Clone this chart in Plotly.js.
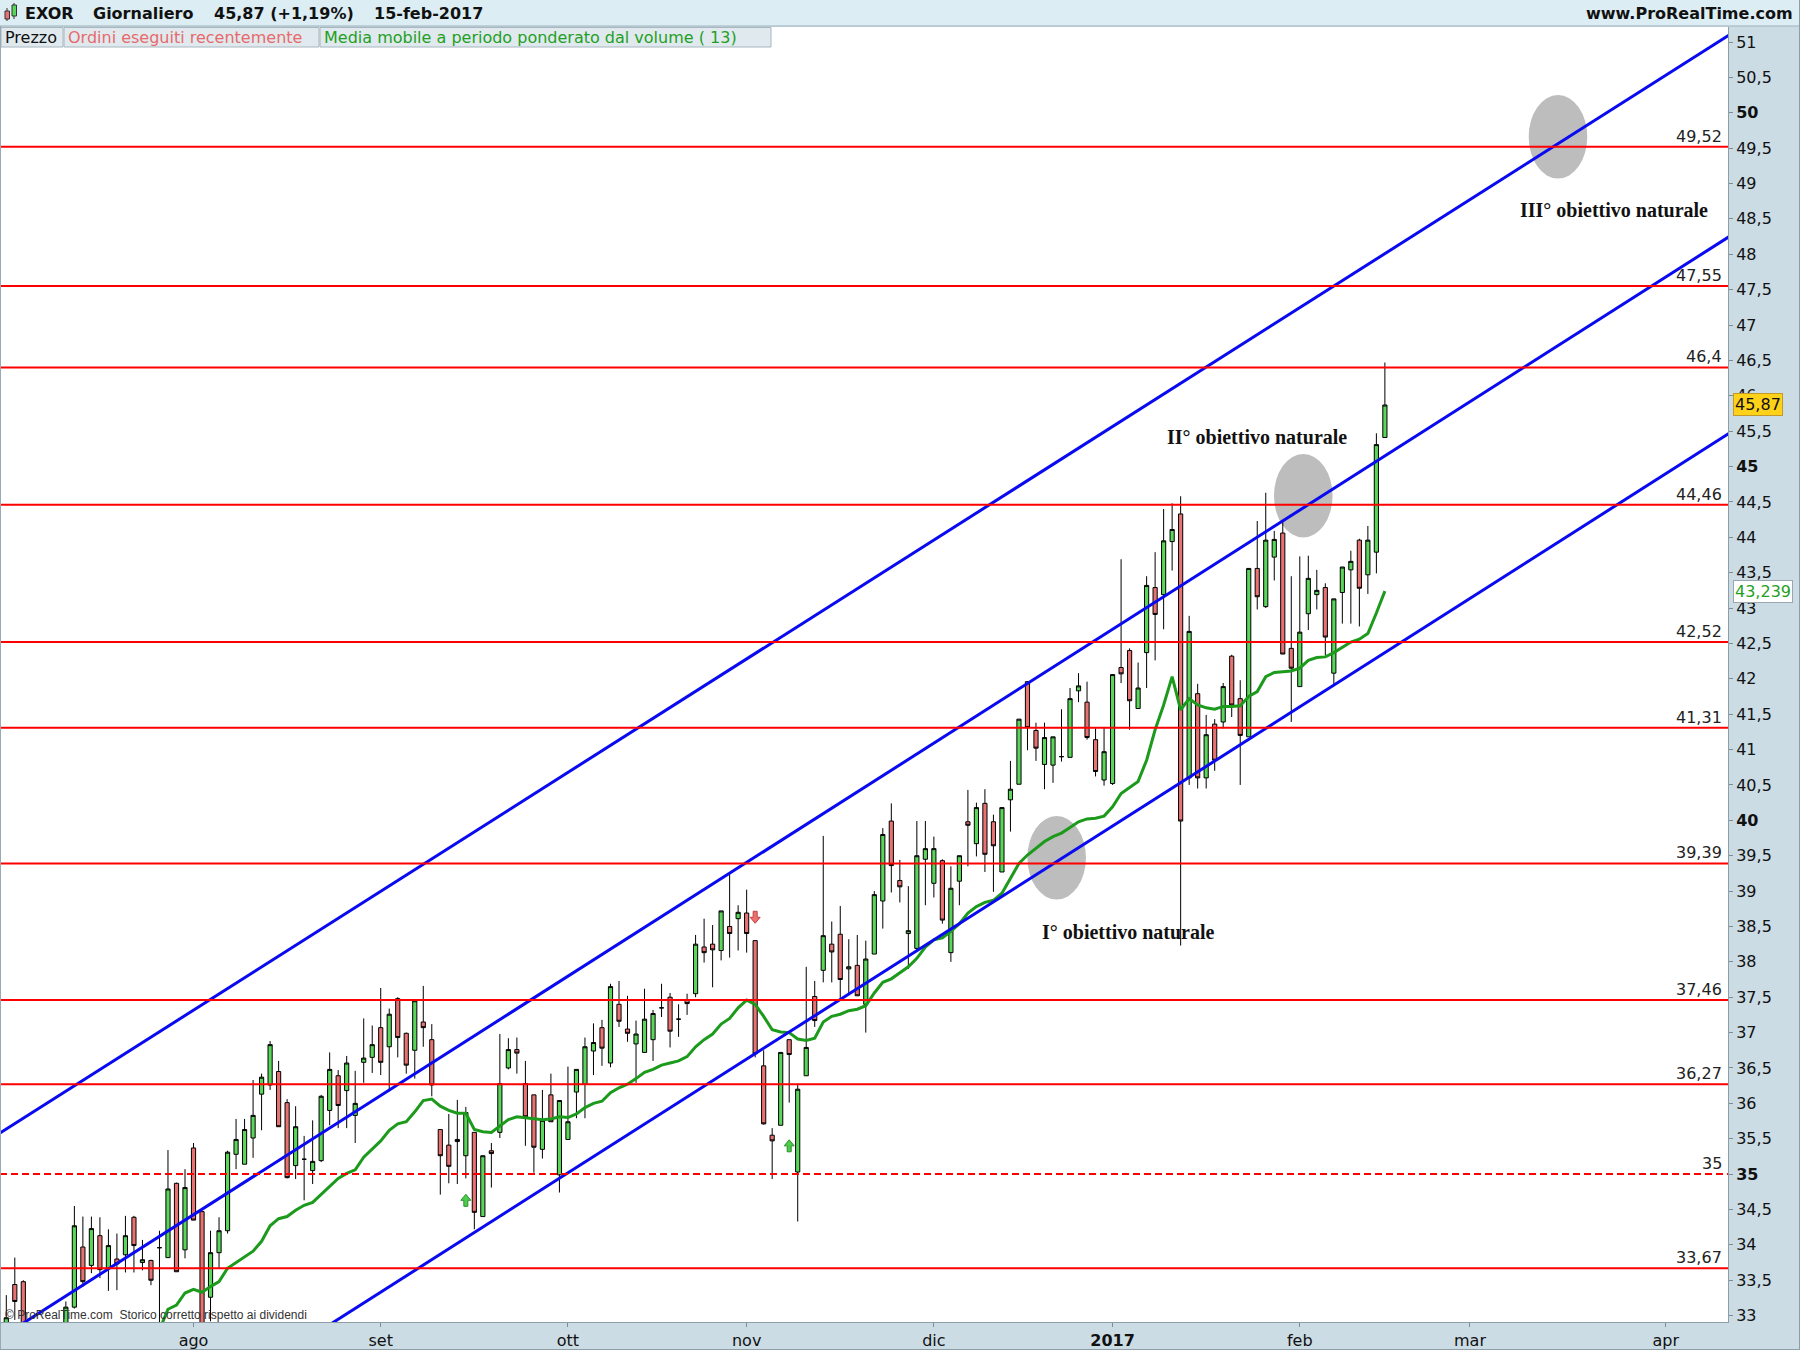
<!DOCTYPE html>
<html><head><meta charset="utf-8">
<script src="https://cdn.plot.ly/plotly-3.0.1.min.js"></script>
<style>html,body{margin:0;padding:0;background:#fff}#chart{width:1800px;height:1350px}</style>
</head><body><div id="chart"></div>
<script>
// ---------- DATA ----------
// trading-day index (0 = 1 Aug 2016) of the first candle
const firstDay = -22;
const open  = [32.80,33.44,33.48,32.60,32.40,32.50,32.60,32.75,33.12,33.97,33.71,34.13,33.67,33.80,33.86,34.39,33.75,33.78,33.96,33.82,34.87,33.93,
 35.37,34.47,33.26,33.89,34.20,35.28,35.14,35.51,36.13,36.26,36.45,36.01,35.12,35.21,35.05,35.19,35.90,36.39,36.18,35.83,36.58,36.65,
 37.07,36.80,37.48,36.99,36.75,37.15,36.90,35.63,35.41,35.46,35.26,35.59,34.40,35.33,35.59,36.50,36.76,36.28,36.12,35.35,36.12,34.99,
 35.49,36.16,36.27,36.74,37.07,36.57,37.40,37.05,36.84,36.72,36.90,37.35,37.50,37.19,37.46,37.55,38.21,38.25,38.16,38.50,38.61,
 38.69,38.30,36.53,35.55,35.69,36.90,35.03,36.39,37.51,37.88,38.25,38.39,37.90,37.95,37.40,38.11,38.86,39.99,39.15,38.40,38.19,39.45,
 39.11,39.43,38.13,39.14,39.98,39.67,40.24,39.98,39.27,40.29,40.51,41.96,41.27,40.79,40.78,40.90,40.89,41.83,41.67,41.14,40.57,
 40.52,42.16,42.40,41.58,42.37,43.29,43.19,43.94,44.33,40.60,41.79,40.60,41.36,41.39,42.32,41.72,41.18,43.56,43.02,43.72,44.06,42.43,
 41.89,42.92,43.19,43.29,42.08,43.22,43.54,43.96,43.47,43.79,45.41];
const high  = [33.29,33.82,33.50,32.80,32.70,32.80,32.85,33.20,34.55,34.40,34.40,34.39,34.22,34.16,34.41,34.41,34.07,33.79,34.20,35.34,34.88,35.07,
 35.44,34.47,34.20,34.39,35.33,35.78,35.78,36.33,36.42,36.88,36.60,36.06,35.96,35.54,35.76,36.12,36.72,36.47,36.67,36.46,37.20,37.10,
 37.63,37.34,37.50,37.00,37.46,37.66,37.12,35.63,35.85,36.05,35.95,35.59,35.26,35.44,36.98,36.92,36.93,36.60,36.12,36.19,36.42,36.04,
 36.52,36.48,36.93,37.13,37.18,37.69,37.73,37.52,37.17,37.62,37.32,37.69,37.56,37.40,37.55,38.38,38.61,38.52,38.72,39.24,38.80,
 39.02,38.30,36.75,35.65,36.72,36.90,36.28,37.93,37.73,39.78,38.57,38.79,38.32,38.38,38.30,39.00,39.89,40.24,39.44,39.07,39.99,39.99,
 39.77,39.45,39.35,39.50,40.43,40.25,40.44,40.08,40.18,40.84,41.43,41.96,41.38,41.38,41.18,41.57,41.87,42.08,41.96,41.30,41.32,
 42.06,43.69,42.43,42.23,43.45,43.79,44.40,44.48,44.58,42.89,41.93,41.49,41.43,41.94,42.34,41.98,43.56,44.23,44.63,44.09,44.24,43.45,
 43.73,43.74,43.54,43.35,43.13,43.58,43.81,43.98,44.16,45.47,46.47];
const low   = [32.60,32.94,32.50,32.20,32.10,32.30,32.30,32.60,33.10,33.41,33.60,33.53,33.35,33.36,33.61,33.61,33.64,33.43,32.80,33.82,33.62,33.81,
 34.35,32.70,32.92,33.67,34.16,35.07,35.14,35.23,35.62,36.19,35.67,34.94,34.93,34.63,34.86,35.17,35.69,35.65,35.65,35.44,36.29,36.43,
 36.40,36.17,36.65,36.42,36.35,36.80,36.10,34.71,34.87,34.86,34.94,34.22,34.40,34.81,35.51,36.48,36.42,35.40,35.02,35.22,35.74,34.74,
 35.49,35.79,35.79,36.40,36.53,36.51,37.08,36.87,36.29,36.72,36.60,37.22,36.79,36.94,37.25,37.50,37.99,37.64,38.02,38.06,38.16,
 38.13,36.65,35.70,34.93,35.69,36.01,34.33,36.39,37.08,37.71,37.71,37.49,37.53,37.52,37.00,38.11,38.47,38.98,38.84,37.90,38.17,38.80,
 38.91,38.54,38.00,38.80,39.35,39.49,39.27,38.99,39.27,39.84,40.51,40.99,40.84,40.44,40.53,40.83,40.89,41.67,41.14,40.62,40.49,
 40.50,41.94,41.28,41.58,41.87,42.26,42.70,43.53,38.23,40.50,40.45,40.45,40.70,41.30,41.46,40.50,41.18,42.98,43.00,43.39,42.35,41.39,
 41.89,42.69,42.98,42.33,41.92,42.78,42.78,42.74,43.20,43.49,45.41];
const close = [32.97,33.20,32.70,32.40,32.50,32.60,32.50,33.12,34.27,33.48,34.23,33.65,33.99,33.73,34.13,33.99,33.79,33.50,33.96,34.79,33.62,34.81,
 34.35,32.85,33.89,34.20,35.31,35.49,35.63,35.83,36.37,36.83,35.67,34.95,35.67,35.21,35.18,36.10,36.48,35.97,36.57,36.00,36.64,36.83,
 36.58,37.26,36.93,36.54,37.45,37.07,36.26,35.26,35.11,35.49,35.87,34.46,35.26,35.29,36.28,36.76,36.71,35.81,35.38,35.76,35.74,36.04,
 35.74,36.48,36.80,36.86,36.78,37.65,37.16,36.99,36.98,37.19,37.27,37.35,37.02,37.19,37.41,38.25,38.13,38.17,38.72,38.40,38.70,
 38.40,36.70,35.71,35.47,36.72,36.69,36.20,36.79,37.17,38.37,38.14,37.75,37.93,37.52,38.04,38.95,39.80,39.36,39.06,38.44,39.50,39.60,
 39.60,38.59,39.04,39.50,39.93,40.18,39.52,39.64,40.18,40.44,41.43,41.31,41.02,41.17,41.18,40.90,41.72,41.90,41.17,40.69,40.97,
 42.06,42.07,41.69,41.87,43.32,42.91,43.95,44.11,39.99,42.67,40.60,41.21,40.85,41.89,41.63,41.20,43.56,43.16,43.96,43.97,42.35,42.15,
 42.66,43.42,43.25,42.59,43.13,43.58,43.66,43.28,43.96,45.31,45.87];

// volume-weighted moving average (13), first value at day index vwmaStart
const vwmaStart = -4;
const vwma = [32.80,33.09,33.15,33.32,33.37,33.33,33.41,33.48,33.67,33.75,33.83,33.91,34.05,34.27,34.37,34.40,34.49,34.56,34.60,34.71,
 34.82,34.94,35.01,35.06,35.24,35.36,35.47,35.62,35.71,35.74,35.88,36.04,36.06,35.96,35.90,35.86,35.86,35.63,35.60,35.59,35.68,35.77,
 35.81,35.80,35.78,35.77,35.78,35.81,35.80,35.85,35.94,36.00,36.03,36.15,36.22,36.27,36.35,36.44,36.48,36.54,36.57,36.60,36.66,36.80,
 36.90,36.98,37.12,37.20,37.35,37.46,37.40,37.23,37.04,37.01,37.00,36.91,36.89,36.92,37.15,37.23,37.26,37.31,37.33,37.38,37.56,37.71,
 37.76,37.84,37.93,38.05,38.21,38.31,38.34,38.43,38.54,38.69,38.78,38.84,38.87,38.97,39.18,39.39,39.51,39.60,39.70,39.77,39.82,39.90,
 39.98,40.02,40.03,40.06,40.19,40.38,40.46,40.55,40.85,41.28,41.63,42.03,41.56,41.72,41.63,41.59,41.57,41.61,41.61,41.62,41.75,41.82,
 42.03,42.09,42.10,42.11,42.15,42.26,42.30,42.31,42.37,42.45,42.52,42.56,42.64,42.93,43.239];

// recent orders (arrows)
const buyDays = [32, 70];   const buyPrices = [34.63, 35.40];
const sellDays = [66];      const sellPrices = [38.63];

// horizontal levels
const levels = [49.52, 47.55, 46.4, 44.46, 42.52, 41.31, 39.39, 37.46, 36.27, 35, 33.67];
const levelLabels = ['49,52','47,55','46,4','44,46','42,52','41,31','39,39','37,46','36,27','35','33,67'];

// trend channel (day index, price at both ends)
const chanDays = [-23, 181];
const chanUpper = [35.561, 51.140];
const chanMiddle = [32.665, 48.291];
const chanLower = [29.885, 45.511];

// targets
const targetNames = ['I° obiettivo naturale','II° obiettivo naturale','III° obiettivo naturale'];
const targetDay = [101.43, 130.41, 160.34];
const targetPrice = [39.47, 44.588, 49.66];
const targetLabelDay = [109.87, 124.97, 166.92];
const targetLabelPrice = [38.42, 45.42, 48.63];

// axis ticks
const monthTickDays = [0, 22, 44, 65, 87, 108, 130, 150, 173];
const monthLabels = ['ago','set','ott','nov','dic','<b>2017</b>','feb','mar','apr'];
const priceTicks = []; for (let v = 33; v <= 51.001; v += 0.5) priceTicks.push(Math.round(v*10)/10);

const lastPrice = 45.87, lastPriceLabel = '45,87';
const lastVwma = 43.239, lastVwmaLabel = '43,239';

// ---------- BUILD ----------
const FONT = 'DejaVu Sans, sans-serif';
const days = open.map((_, k) => firstDay + k);
const vwmaDays = vwma.map((_, k) => vwmaStart + k);
const priceTickText = priceTicks.map(v => {
  let s = String(v).replace('.', ',');
  return (v % 5 === 0) ? '<b>' + s + '</b>' : s;
});

const W = 1800, H = 1350, ML = 0, MR = 72, MT = 27, MB = 28;
const PW = W - ML - MR, PH = H - MT - MB;
const px = x => (x - ML) / PW;
const py = y => (H - MB - y) / PH;

const traces = [];
traces.push({
  type: 'candlestick', x: days, open, high, low, close,
  increasing: {line: {color: '#000', width: 1}, fillcolor: '#5ad65a'},
  decreasing: {line: {color: '#000', width: 1}, fillcolor: '#e87272'},
  whiskerwidth: 0, hoverinfo: 'skip', showlegend: false
});
traces.push({type: 'scatter', mode: 'lines', x: vwmaDays, y: vwma,
  line: {color: '#1c9a1c', width: 3}, hoverinfo: 'skip', showlegend: false});
[chanUpper, chanMiddle, chanLower].forEach(c => traces.push({
  type: 'scatter', mode: 'lines', x: chanDays, y: c,
  line: {color: '#0a0af0', width: 3}, hoverinfo: 'skip', showlegend: false}));

const shapes = [];
const annotations = [];

// order arrows (block arrows, pixel-sized, anchored on the data point)
const upPath = 'M -2 -6 L 2 -6 L 2 0 L 5 0 L 0 6 L -5 0 L -2 0 Z';
const downPath = 'M -2 6 L 2 6 L 2 0 L 5 0 L 0 -6 L -5 0 L -2 0 Z';
buyDays.forEach((d, k) => shapes.push({type: 'path', xref: 'x', yref: 'y', xsizemode: 'pixel', ysizemode: 'pixel',
  xanchor: d, yanchor: buyPrices[k], path: upPath, fillcolor: '#4ccc4c', line: {color: '#2a8f2a', width: 1}, layer: 'above'}));
sellDays.forEach((d, k) => shapes.push({type: 'path', xref: 'x', yref: 'y', xsizemode: 'pixel', ysizemode: 'pixel',
  xanchor: d, yanchor: sellPrices[k], path: downPath, fillcolor: '#f07070', line: {color: '#c04040', width: 1}, layer: 'above'}));

// target ellipses
targetDay.forEach((d, k) => {
  shapes.push({type: 'circle', xref: 'x', yref: 'y', layer: 'below',
    x0: d - 3.44, x1: d + 3.44, y0: targetPrice[k] - 0.59, y1: targetPrice[k] + 0.59,
    fillcolor: '#bdbdbd', line: {width: 0}});
  annotations.push({xref: 'x', yref: 'y', x: targetLabelDay[k], y: targetLabelPrice[k],
    text: '<b>' + targetNames[k] + '</b>', showarrow: false, xanchor: 'center', yanchor: 'middle',
    font: {family: 'Liberation Serif, Times New Roman, serif', size: 20, color: '#111'}});
});

// levels
levels.forEach((v, k) => {
  shapes.push({type: 'line', xref: 'paper', x0: 0, x1: 1, yref: 'y', y0: v, y1: v, layer: 'above',
    line: {color: '#ff0000', width: 2, dash: v === 35 ? '7px,4px' : 'solid'}});
  annotations.push({xref: 'paper', yref: 'y', x: px(1724), y: v, xanchor: 'right', yanchor: 'bottom',
    text: levelLabels[k], showarrow: false, yshift: -1, font: {family: FONT, size: 16, color: '#222'}});
});

// header bar
shapes.push({type: 'rect', xref: 'paper', yref: 'paper', x0: px(0), x1: px(W), y0: py(26), y1: py(0),
  fillcolor: '#dcedf4', line: {width: 0}, layer: 'above'});
shapes.push({type: 'line', xref: 'paper', yref: 'paper', x0: px(0), x1: px(W), y0: py(26), y1: py(26),
  line: {color: '#9fb1bb', width: 1}, layer: 'above'});
// icon
shapes.push({type: 'line', xref: 'paper', yref: 'paper', x0: px(7), x1: px(7), y0: py(8), y1: py(21), line: {color: '#333', width: 1}, layer: 'above'});
shapes.push({type: 'rect', xref: 'paper', yref: 'paper', x0: px(5), x1: px(9.5), y0: py(19), y1: py(11), fillcolor: '#e87272', line: {color: '#333', width: 1}, layer: 'above'});
shapes.push({type: 'line', xref: 'paper', yref: 'paper', x0: px(14), x1: px(14), y0: py(3), y1: py(19), line: {color: '#333', width: 1}, layer: 'above'});
shapes.push({type: 'rect', xref: 'paper', yref: 'paper', x0: px(12), x1: px(16.5), y0: py(16), y1: py(5), fillcolor: '#5ad65a', line: {color: '#333', width: 1}, layer: 'above'});

const hdr = [['EXOR', 23], ['Giornaliero', 91], ['45,87 (+1,19%)', 212], ['15-feb-2017', 372]];
hdr.forEach(h => annotations.push({xref: 'paper', yref: 'paper', x: px(h[1]), y: py(13.5), xanchor: 'left', yanchor: 'middle',
  text: '<b>' + h[0] + '</b>', showarrow: false, font: {family: FONT, size: 16, color: '#111'}}));
annotations.push({xref: 'paper', yref: 'paper', x: px(1795), y: py(13.5), xanchor: 'right', yanchor: 'middle',
  text: '<b>www.ProRealTime.com</b>', showarrow: false, font: {family: FONT, size: 16, color: '#111'}});

// legend row
const legendBoxes = [['Prezzo', 1, 63, '#111'], ['Ordini eseguiti recentemente', 64, 319, '#e8696b'],
  ['Media mobile a periodo ponderato dal volume ( 13)', 320, 771, '#1f9f1f']];
legendBoxes.forEach(b => {
  shapes.push({type: 'rect', xref: 'paper', yref: 'paper', x0: px(b[1]), x1: px(b[2]), y0: py(47), y1: py(27.5),
    fillcolor: '#dfe9ee', line: {color: '#a7b6bf', width: 1}, layer: 'above'});
  annotations.push({xref: 'paper', yref: 'paper', x: px(b[1] + 2), y: py(37.5), xanchor: 'left', yanchor: 'middle',
    text: b[0], showarrow: false, font: {family: FONT, size: 16, color: b[3]}});
});

// watermark
annotations.push({xref: 'paper', yref: 'paper', x: px(3), y: py(1315), xanchor: 'left', yanchor: 'middle',
  text: '© ProRealTime.com  Storico corretto rispetto ai dividendi', showarrow: false,
  font: {family: 'Liberation Sans, Arial, sans-serif', size: 12, color: '#333'}});

// last value labels
annotations.push({xref: 'paper', yref: 'y', x: px(1733), y: lastPrice, xanchor: 'left', yanchor: 'middle',
  text: lastPriceLabel, showarrow: false, bgcolor: '#ffd21a', bordercolor: '#c39a2a', borderwidth: 1, borderpad: 1,
  font: {family: FONT, size: 16, color: '#111'}});
annotations.push({xref: 'paper', yref: 'y', x: px(1733), y: lastVwma, xanchor: 'left', yanchor: 'middle',
  text: lastVwmaLabel, showarrow: false, bgcolor: '#ffffff', bordercolor: '#9aa7ae', borderwidth: 1, borderpad: 1,
  font: {family: FONT, size: 16, color: '#1f9f1f'}});

// outer frame
shapes.push({type: 'line', xref: 'paper', yref: 'paper', x0: px(0.5), x1: px(0.5), y0: py(H), y1: py(26), line: {color: '#9aaab4', width: 1}, layer: 'above'});
shapes.push({type: 'line', xref: 'paper', yref: 'paper', x0: px(W - 0.5), x1: px(W - 0.5), y0: py(H), y1: py(0), line: {color: '#8d9ea8', width: 1}, layer: 'above'});
shapes.push({type: 'line', xref: 'paper', yref: 'paper', x0: px(0), x1: px(W), y0: py(H - 0.5), y1: py(H - 0.5), line: {color: '#8d9ea8', width: 1}, layer: 'above'});

const layout = {
  width: W, height: H,
  margin: {l: ML, r: MR, t: MT, b: MB, pad: 0},
  paper_bgcolor: '#cbdce5', plot_bgcolor: '#ffffff',
  showlegend: false, hovermode: false, dragmode: false,
  xaxis: {range: [-22.74, 180.32], tickvals: monthTickDays, ticktext: monthLabels,
    ticks: 'outside', ticklen: 4, tickcolor: '#7d8d97', showgrid: false, zeroline: false,
    showline: true, linecolor: '#8d9ea8', linewidth: 1,
    tickfont: {family: FONT, size: 16, color: '#111'}, rangeslider: {visible: false}, fixedrange: true},
  yaxis: {side: 'right', range: [32.91, 51.212], tickvals: priceTicks, ticktext: priceTickText,
    ticks: 'outside', ticklen: 4, tickcolor: '#7d8d97', showgrid: false, zeroline: false,
    showline: true, linecolor: '#8d9ea8', linewidth: 1,
    tickfont: {family: FONT, size: 16, color: '#111'}, fixedrange: true},
  shapes, annotations
};

Plotly.newPlot('chart', traces, layout, {displayModeBar: false, staticPlot: true});
</script></body></html>
